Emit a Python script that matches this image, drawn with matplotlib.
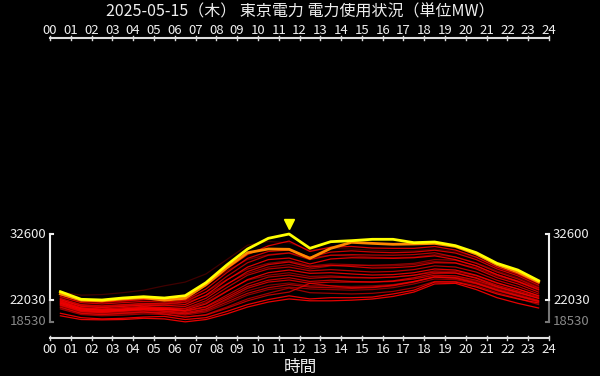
import matplotlib
matplotlib.use("Agg")
import matplotlib.pyplot as plt
from matplotlib.transforms import ScaledTranslation
import numpy as np

plt.rcParams['font.family'] = ['Noto Sans CJK JP', 'DejaVu Sans']

title = "2025-05-15（木） 東京電力 電力使用状況（単位MW）"
xlabel = "時間"
hour_labels = [f"{h:02d}" for h in range(25)]
hours = [h + 0.5 for h in range(24)]

today = [23360, 22140, 22030, 22350, 22560, 22350, 22720, 24800, 27630, 30200, 31910, 32600,
         30310, 31370, 31530, 31750, 31750, 31210, 31320, 30730, 29610, 27900, 26830, 25120]
yesterday = [23000, 22000, 21900, 22200, 22400, 22000, 22300, 24500, 27200, 29600, 30200, 30150,
             28700, 30300, 31270, 31100, 30950, 31000, 31100, 30600, 29400, 27700, 26500, 24900]

past_days = [
    [23300, 22800, 22900, 23200, 23600, 24300, 24900, 26200, 28500, 30800, 31400, 31200, 30000, 30300, 30200, 30000, 29900, 29900, 30200, 29800, 28800, 27300, 26100, 24600],
    [22900, 21900, 21700, 21900, 22100, 22000, 22400, 24300, 27000, 29300, 30700, 31470, 29800, 30500, 30600, 30350, 30300, 30300, 30600, 30030, 28900, 27300, 26200, 24700],
    [22500, 21700, 21600, 21800, 22100, 22300, 22800, 24400, 26700, 28500, 29300, 29600, 28800, 29200, 29100, 28900, 28800, 28900, 29300, 28900, 28000, 26700, 25600, 24200],
    [22600, 21600, 21400, 21600, 21800, 21700, 22000, 23800, 26400, 28700, 29800, 30030, 28900, 29700, 29900, 29710, 29600, 29700, 30000, 29550, 28500, 27000, 25900, 24400],
    [22300, 21300, 21100, 21300, 21500, 21400, 21700, 23300, 25800, 28000, 29200, 29550, 28500, 29200, 29300, 29230, 29200, 29300, 29600, 28910, 27900, 26500, 25400, 24000],
    [22100, 21000, 20800, 21000, 21200, 21100, 21300, 22800, 25200, 27300, 28500, 28750, 27800, 28600, 28800, 28750, 28700, 28800, 29100, 28500, 27500, 26100, 25000, 23700],
    [22200, 21200, 21000, 21200, 21400, 21500, 21900, 23300, 25300, 27000, 27900, 28300, 27500, 27800, 27700, 27500, 27500, 27700, 28200, 28000, 27200, 25900, 24900, 23600],
    [22000, 21100, 20900, 21100, 21300, 21300, 21600, 22700, 24600, 26300, 27300, 27700, 27000, 27500, 27600, 27600, 27700, 27900, 28500, 28400, 27500, 26100, 25100, 23900],
    [21900, 20800, 20600, 20800, 21000, 20800, 21000, 22300, 24500, 26600, 27700, 28110, 27300, 27600, 27400, 27150, 27200, 27400, 28000, 27950, 27000, 25600, 24600, 23300],
    [21700, 20600, 20400, 20600, 20800, 20600, 20700, 21900, 24000, 26000, 27000, 27310, 26700, 26900, 26700, 26510, 26600, 26900, 27500, 27310, 26500, 25200, 24200, 23000],
    [21500, 20400, 20200, 20400, 20600, 20500, 20400, 21400, 23400, 25300, 26400, 26830, 26300, 26400, 26200, 26030, 26100, 26400, 27000, 26830, 26000, 24800, 23800, 22700],
    [21400, 20500, 20300, 20400, 20600, 20600, 20600, 21600, 23500, 25200, 26000, 26400, 25800, 25900, 25700, 25600, 25700, 26000, 26700, 26600, 25900, 24700, 23800, 22700],
    [21800, 20700, 20500, 20600, 20900, 20700, 20300, 21000, 22800, 24600, 25700, 26030, 25500, 25700, 25600, 25550, 25700, 26000, 26500, 26350, 25600, 24400, 23500, 22500],
    [21600, 20600, 20400, 20500, 20700, 20500, 20200, 20900, 22500, 24200, 25200, 25600, 25000, 25200, 25000, 24910, 25000, 25400, 26000, 25900, 25200, 24100, 23200, 22300],
    [21300, 20300, 20100, 20300, 20500, 20300, 20000, 20600, 22200, 23900, 24900, 25230, 24700, 24900, 24900, 24910, 25100, 25600, 26300, 26350, 25500, 24200, 23300, 22300],
    [20800, 19900, 19700, 19800, 20000, 20000, 19800, 20500, 22000, 23500, 24400, 24750, 24300, 24300, 24200, 24300, 24500, 25000, 25800, 25700, 25000, 23900, 23000, 22000],
    [21200, 20200, 20000, 20200, 20400, 20200, 19800, 20300, 21700, 23100, 24000, 24500, 24100, 24000, 23900, 24000, 24300, 24900, 25700, 25600, 24800, 23700, 22800, 21900],
    [21100, 20100, 19900, 20000, 20200, 20000, 19600, 20100, 21400, 22800, 23700, 24100, 23800, 23700, 23600, 23700, 24000, 24600, 25400, 25300, 24600, 23500, 22600, 21700],
    [20900, 19900, 19700, 19900, 20100, 19800, 19300, 19600, 20700, 21900, 22800, 23300, 24700, 24300, 24000, 24110, 24400, 25000, 25700, 25500, 24700, 23600, 22700, 21800],
    [20600, 19700, 19500, 19600, 19800, 19700, 19300, 19700, 20900, 22200, 23100, 23950, 23200, 23100, 23000, 23100, 23400, 24000, 25000, 25000, 24300, 23200, 22300, 21300],
    [19900, 19200, 19000, 19100, 19300, 19400, 18900, 19200, 20200, 21300, 22100, 22700, 22200, 22400, 22400, 22500, 23000, 23600, 24900, 24900, 24100, 23000, 22200, 21550],
    [19500, 18900, 18850, 18900, 19100, 19000, 18530, 18900, 19800, 20900, 21700, 22200, 21900, 21900, 22000, 22190, 22600, 23300, 24600, 24700, 23700, 22400, 21500, 20750],
]
past_alpha = [0.25, 0.85, 0.4, 0.8, 0.7, 0.85, 0.5, 0.55, 0.8, 0.7, 0.85, 0.55,
              0.7, 0.75, 0.75, 0.5, 0.7, 0.55, 0.7, 0.6, 0.9, 0.9]

fig = plt.figure(figsize=(6, 3.76), dpi=100, facecolor='black')
ax = fig.add_axes([50/600, 38/376, 499/600, 300/376], facecolor='black')

for vals, a in zip(past_days, past_alpha):
    ax.plot(hours, vals, color='#ff0000', lw=0.9, alpha=a, solid_joinstyle='round')
ax.plot(hours, yesterday, color='#ff8800', lw=2.0, solid_joinstyle='round')
ax.plot(hours, today, color='#ffff00', lw=2.0, solid_joinstyle='round')

tmax = max(today)
tmin = min(today)
allmin = min(min(d) for d in past_days + [today, yesterday])
imax = today.index(tmax)
off = ScaledTranslation(0, 10/100, fig.dpi_scale_trans)
ax.plot(hours[imax], tmax, marker='v', ms=7, color='#ffff00', mec='#ffff00',
        transform=ax.transData + off, clip_on=False)

slope = (tmax - tmin) / 66.0
ax.set_ylim(tmin - slope*38, tmin + slope*262)
ax.set_xlim(0, 24)

for s in ax.spines.values():
    s.set_visible(False)

axc = '#dddddd'
for yy in (0, 1):
    ax.plot([0, 24], [yy, yy], color=axc, lw=1.5, transform=ax.get_xaxis_transform(), clip_on=False)
for h in range(25):
    for yy in (0, 1):
        ax.plot([h, h], [yy - 0.008, yy + 0.008], color=axc, lw=1.0,
                transform=ax.get_xaxis_transform(), clip_on=False)
    ax.text(h, 1.005, hour_labels[h], transform=ax.get_xaxis_transform(), ha='center', va='bottom',
            color='#eeeeee', fontsize=9.5)
    ax.text(h, -0.018, hour_labels[h], transform=ax.get_xaxis_transform(), ha='center', va='top',
            color='#eeeeee', fontsize=9.5)
ax.set_xticks([])
ax.set_yticks([])

ya = ax.get_yaxis_transform()
for xx, sgn in ((0, 1), (1, -1)):
    ax.plot([xx, xx], [tmin, tmax], color='#eeeeee', lw=1.5, transform=ya, clip_on=False)
    ax.plot([xx, xx], [allmin, tmin], color='#777777', lw=1.5, transform=ya, clip_on=False)
    dx = 0.006 * sgn
    for v, c in ((tmax, '#eeeeee'), (tmin, '#eeeeee'), (allmin, '#777777')):
        ax.plot([xx, xx + dx], [v, v], color=c, lw=1.5, transform=ya, clip_on=False)
    for v, c in ((tmax, '#eeeeee'), (tmin, '#eeeeee'), (allmin, '#888888')):
        if sgn == 1:
            ax.text(-0.008, v, f"{v}", transform=ya, ha='right', va='center', color=c, fontsize=9.5)
        else:
            ax.text(1.008, v, f"{v}", transform=ya, ha='left', va='center', color=c, fontsize=9.5)

fig.text(0.5, 1 - 12/376, title, ha='center', va='center', color='#eeeeee', fontsize=11.5)
fig.text(0.5, 1 - 367/376, xlabel, ha='center', va='center', color='#eeeeee', fontsize=12)

fig.savefig('out.png', dpi=100, facecolor='black')
